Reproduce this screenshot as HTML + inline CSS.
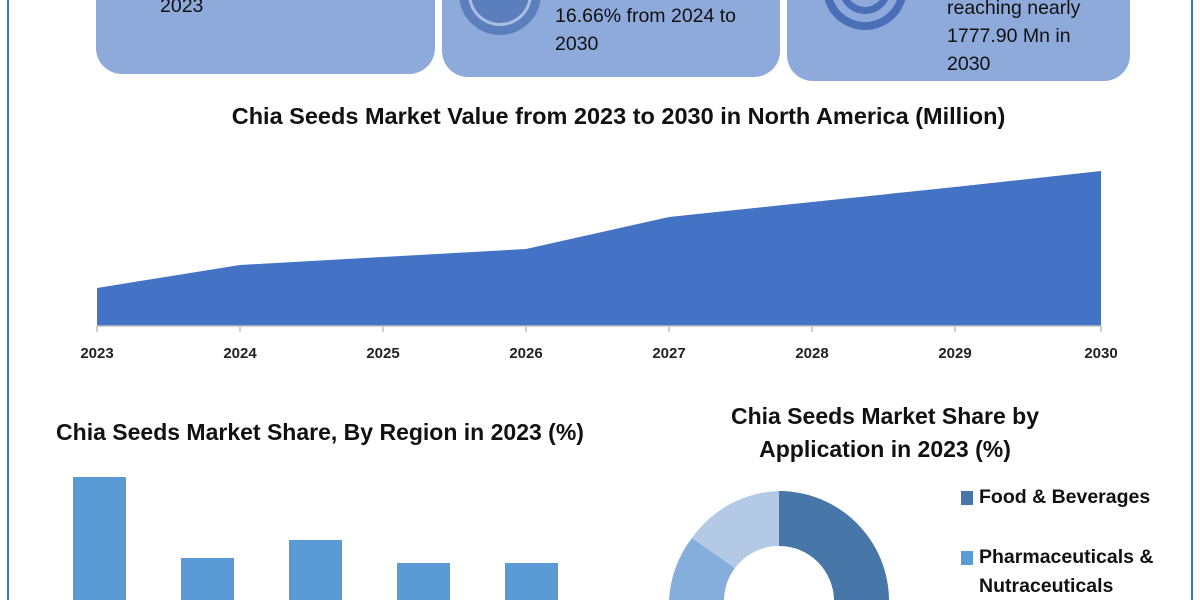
<!DOCTYPE html>
<html style="overflow:hidden"><head><style>
html,body{width:1200px;height:600px}
body{margin:0;overflow:hidden;background:#fff;font-family:"Liberation Sans",sans-serif;position:relative}
.b{position:absolute}
.card{position:absolute;background:#8eaadb;border-radius:0 0 26px 26px;top:0}
.t{position:absolute;font-size:19.5px;color:#111;line-height:28px}
.h{position:absolute;font-weight:bold;color:#111;text-align:center;white-space:nowrap}
</style></head><body>
<div class="b" style="left:7px;top:0;width:2px;height:600px;background:#4472c4"></div>
<div class="b" style="left:1191px;top:0;width:2px;height:600px;background:#4472c4"></div>
<div class="card" style="left:96px;width:339px;height:74px"></div>
<div class="card" style="left:442px;width:338px;height:77px"></div>
<div class="card" style="left:787px;width:343px;height:81px"></div>
<svg class="b" style="left:0;top:0" width="1200" height="90">
<circle cx="500" cy="-6" r="41" fill="#5b7fbd"/><circle cx="500" cy="-6" r="32" fill="#a8bfe3"/><circle cx="500" cy="-6" r="29" fill="#5b7fbd"/>
<circle cx="865" cy="-12" r="42" fill="#4a6fb8"/><circle cx="865" cy="-12" r="34" fill="#8eaadb"/><circle cx="865" cy="-12" r="26" fill="#4a6fb8"/><circle cx="865" cy="-12" r="19" fill="#8eaadb"/>
</svg>
<div class="t" style="left:160px;top:-8px">2023</div>
<div class="t" style="left:555px;top:2px">16.66% from 2024 to<br>2030</div>
<div class="t" style="left:947px;top:-6px">reaching nearly<br>1777.90 Mn in<br>2030</div>
<div class="h" style="left:0;width:1237px;top:103px;font-size:23.5px">Chia Seeds Market Value from 2023 to 2030 in North America (Million)</div>
<svg class="b" style="left:0;top:0" width="1200" height="600">
<polygon points="97,288 240,265 383,257 526,249 669,217 812,202 955,187 1101,171 1101,326 97,326" fill="#4472c4"/>
<line x1="97" y1="326" x2="1101" y2="326" stroke="#bfbfbf" stroke-width="1.5"/>
<g stroke="#bfbfbf" stroke-width="1.5">
<line x1="97" y1="326" x2="97" y2="332"/><line x1="240" y1="326" x2="240" y2="332"/><line x1="383" y1="326" x2="383" y2="332"/><line x1="526" y1="326" x2="526" y2="332"/><line x1="669" y1="326" x2="669" y2="332"/><line x1="812" y1="326" x2="812" y2="332"/><line x1="955" y1="326" x2="955" y2="332"/><line x1="1101" y1="326" x2="1101" y2="332"/></g>
<g font-family="Liberation Sans" font-weight="bold" font-size="15" fill="#222" text-anchor="middle">
<text x="97" y="358">2023</text><text x="240" y="358">2024</text><text x="383" y="358">2025</text><text x="526" y="358">2026</text><text x="669" y="358">2027</text><text x="812" y="358">2028</text><text x="955" y="358">2029</text><text x="1101" y="358">2030</text></g>
<g fill="#5b9bd5">
<rect x="73" y="477" width="53" height="130"/><rect x="181" y="558" width="53" height="50"/><rect x="289" y="540" width="53" height="70"/><rect x="397" y="563" width="53" height="50"/><rect x="505" y="563" width="53" height="50"/></g>
<path d="M779,491 A110,110 0 0 1 889,601 A110,110 0 0 1 779,711 L779,656 A55,55 0 0 0 834,601 A55,55 0 0 0 779,546 Z" fill="#4677a8"/>
<path d="M692,538 A110,110 0 0 0 669,601 L724,601 A55,55 0 0 1 735,568 Z" fill="#86aedc"/>
<path d="M779,491 A110,110 0 0 0 692,538 L735,568 A55,55 0 0 1 779,546 Z" fill="#b4c9e6"/>
<rect x="961" y="491" width="12" height="14" fill="#4677a8"/>
<rect x="961" y="551" width="12" height="14" fill="#5b9bd5"/>
</svg>
<div class="h" style="left:0;width:640px;top:419px;font-size:23px">Chia Seeds Market Share, By Region in 2023 (%)</div>
<div class="h" style="left:680px;width:410px;top:400px;font-size:23px;line-height:33px">Chia Seeds Market Share by<br>Application in 2023 (%)</div>
<div class="h" style="left:979px;top:486px;font-size:19.5px;text-align:left">Food &amp; Beverages</div>
<div class="h" style="left:979px;top:543px;font-size:19.5px;text-align:left;line-height:29px">Pharmaceuticals &amp;<br>Nutraceuticals</div>
</body></html>
